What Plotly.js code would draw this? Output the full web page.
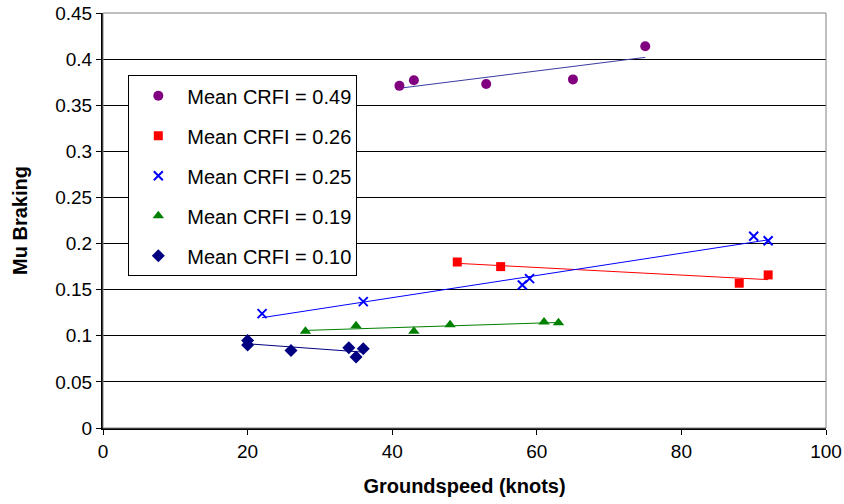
<!DOCTYPE html>
<html><head><meta charset="utf-8">
<script src="https://cdn.plot.ly/plotly-3.0.1.min.js"></script>
<style>html,body{margin:0;padding:0;background:#fff}#chart{width:844px;height:504px}</style>
</head><body><div id="chart"></div>
<script>
const names = ["Mean CRFI = 0.49","Mean CRFI = 0.26","Mean CRFI = 0.25","Mean CRFI = 0.19","Mean CRFI = 0.10"];
const x049 = [41,43,53,65,75];
const y049 = [0.371,0.377,0.373,0.378,0.414];
const x026 = [49,55,88,92];
const y026 = [0.180,0.175,0.157,0.166];
const x025 = [22,36,58,59,90,92];
const y025 = [0.124,0.137,0.155,0.162,0.208,0.203];
const x019 = [28,35,43,48,61,63];
const y019 = [0.105,0.111,0.105,0.112,0.115,0.114];
const x010 = [20,20,26,34,35,36];
const y010 = [0.095,0.090,0.084,0.087,0.077,0.086];

const series = [
  {n:names[0], x:x049, y:y049, sym:'circle', col:'#800080', line:'#3a3aa0', size:10},
  {n:names[1], x:x026, y:y026, sym:'square', col:'#ff0000', line:'#ff0000', size:9},
  {n:names[2], x:x025, y:y025, sym:'x-thin-open', col:'#0000ff', line:'#0000ff', size:9},
  {n:names[3], x:x019, y:y019, sym:'triangle-up', col:'#008000', line:'#008000', size:10},
  {n:names[4], x:x010, y:y010, sym:'diamond', col:'#000080', line:'#000080', size:10}
];

function fit(xs, ys){
  const n = xs.length;
  const mx = xs.reduce((a,b)=>a+b,0)/n, my = ys.reduce((a,b)=>a+b,0)/n;
  let sxx=0, sxy=0;
  for(let i=0;i<n;i++){sxx+=(xs[i]-mx)**2; sxy+=(xs[i]-mx)*(ys[i]-my);}
  const m = sxy/sxx, b = my - m*mx;
  const x0 = Math.min(...xs), x1 = Math.max(...xs);
  return {x:[x0,x1], y:[m*x0+b, m*x1+b]};
}

const traces = [];
series.forEach((s,i)=>{
  const f = fit(s.x, s.y);
  traces.push({x:f.x, y:f.y, mode:'lines', line:{color:s.line, width:1}, showlegend:false, hoverinfo:'skip'});
});
series.forEach((s,i)=>{
  traces.push({x:s.x, y:s.y, mode:'markers', name:s.n, legendgroup:'g'+i,
    marker:{symbol:s.sym, color:s.col, size:s.size, line:{color:s.col, width: s.sym==='x-thin-open'?2:0}}});
});

const layout = {
  width:844, height:504,
  margin:{l:103, r:18, t:13, b:76},
  paper_bgcolor:'#fff', plot_bgcolor:'#fff',
  font:{family:'Liberation Sans, Arial, sans-serif', size:19, color:'#000'},
  xaxis:{range:[0,100], dtick:20, tick0:0, showgrid:false, zeroline:false,
    showline:true, linecolor:'#000', linewidth:2, ticks:'outside', ticklen:5, tickcolor:'#000',
    tickfont:{size:19},
    title:{text:'<b>Groundspeed (knots)</b>', font:{size:20}, standoff:18}},
  yaxis:{range:[0,0.45], dtick:0.05, tick0:0, showgrid:true, gridcolor:'#000', gridwidth:1, zeroline:false,
    showline:true, linecolor:'#000', linewidth:2, ticks:'outside', ticklen:5, tickcolor:'#000',
    tickfont:{size:19},
    title:{text:'<b>Mu Braking</b>', font:{size:20}, standoff:22}},
  shapes:[{type:'rect', xref:'paper', yref:'paper', x0:0, x1:1, y0:0, y1:1, line:{color:'#808080', width:1}}],
  legend:{x:0.035, y:0.85, xanchor:'left', yanchor:'top', bordercolor:'#000', borderwidth:1,
    bgcolor:'#fff', font:{size:20}, tracegroupgap:11, itemwidth:48},
  showlegend:true
};
Plotly.newPlot('chart', traces, layout, {displayModeBar:false, staticPlot:true});
</script></body></html>
